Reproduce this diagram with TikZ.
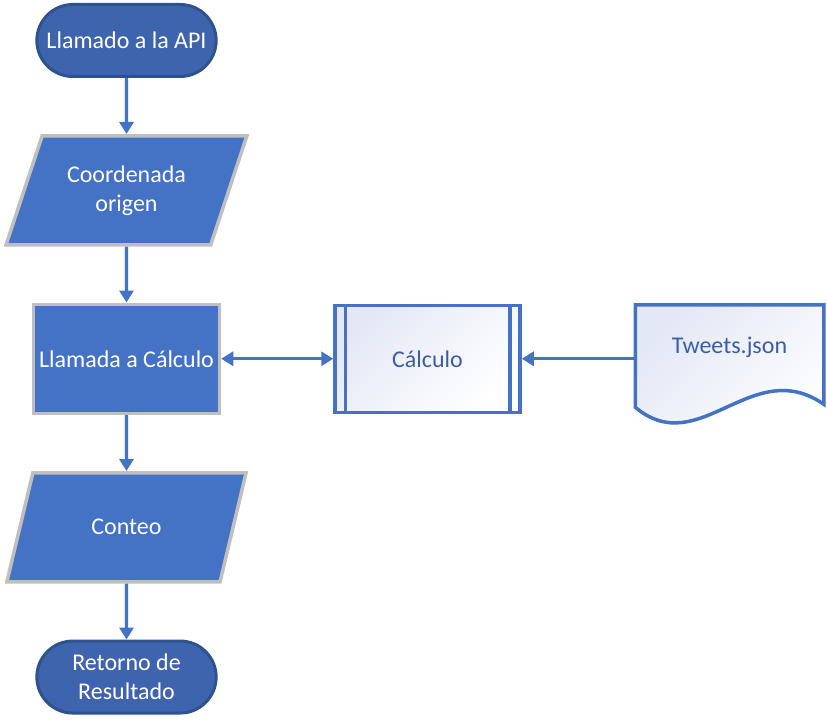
\documentclass[tikz,border=0pt]{standalone}
\usepackage{fontspec}
\setmainfont{Carlito}
\usetikzlibrary{arrows.meta,positioning,shapes.geometric,shapes.misc}
\definecolor{ofblue}{HTML}{4472C4}
\definecolor{termfill}{HTML}{3F64AE}
\definecolor{termline}{HTML}{2F528F}
\definecolor{grayline}{HTML}{BFBFBF}
\definecolor{calctext}{HTML}{3A5DA8}
\definecolor{lavender}{HTML}{E4E8F5}

\begin{document}
\begin{tikzpicture}[
    x=1pt, y=-1pt,
    node distance=56pt,
    every node/.style={font=\fontsize{24}{29}\selectfont, align=center},
    termnode/.style={rounded rectangle, draw=termline, fill=termfill, line width=3pt,
                     minimum width=186pt, minimum height=72pt, text=white},
    ionode/.style={trapezium, trapezium left angle=64.5, trapezium right angle=115.5,
                   trapezium stretches=true, draw=grayline, fill=ofblue, line width=3.5pt,
                   minimum width=241pt, minimum height=109pt, text=white},
    procnode/.style={rectangle, draw=grayline, fill=ofblue, line width=3.5pt,
                     minimum width=186pt, minimum height=109pt, text=white},
    subnode/.style={rectangle, draw=ofblue, line width=3.5pt, top color=lavender,
                    bottom color=white, shading angle=45,
                    minimum width=185pt, minimum height=107pt, text=calctext},
    docnode/.style={rectangle, minimum width=185pt, minimum height=82pt,
                    outer sep=1.75pt, text=calctext},
    docline/.style={draw=ofblue, line width=3.5pt, top color=lavender,
                    bottom color=white, shading angle=45},
    arrow/.style={-{Triangle[width=14pt,length=12pt]}, line width=3.2pt, draw=ofblue},
    dblarrow/.style={{Triangle[width=14pt,length=12pt]}-{Triangle[width=14pt,length=12pt]},
                     line width=3.2pt, draw=ofblue}
]
\useasboundingbox (0,0) rectangle (827,722);

%% ---- Columna principal ----
\node[termnode]              (api)  at (126.5, 40.5) {Llamado a la API};
\node[ionode,   below=of api]  (orig)                 {Coordenada\\origen};
\node[procnode, below=of orig] (llam)                 {Llamada a Cálculo};
\node[ionode,   below=of llam] (cont)                 {Conteo};
\node[termnode, below=of cont] (ret)                  {Retorno de\\Resultado};

\draw[arrow] (api)--(orig);
\draw[arrow] (orig)--(llam);
\draw[arrow] (llam)--(cont);
\draw[arrow] (cont)--(ret);

%% ---- Cálculo y datos ----
\node[subnode, right=112pt of llam]            (calc) {Cálculo};
\draw[draw=ofblue, line width=3.5pt] ([xshift=12pt]calc.north west)--([xshift=12pt]calc.south west);
\draw[draw=ofblue, line width=3.5pt] ([xshift=-12pt]calc.north east)--([xshift=-12pt]calc.south east);

\node[docnode] (tw) at (729.5, 347.5) {};
\draw[docline] (tw.north west) -- ([yshift=-17pt]tw.south west)
    .. controls +(64,54) and +(-72,-50) .. ([yshift=-14pt]tw.south east)
    -- (tw.north east) -- cycle;
\node[docnode] at (tw) {Tweets.json};

\draw[dblarrow] (llam)--(calc);
\draw[arrow] (tw.west |- calc.east)--(calc.east);

\end{tikzpicture}
\end{document}
